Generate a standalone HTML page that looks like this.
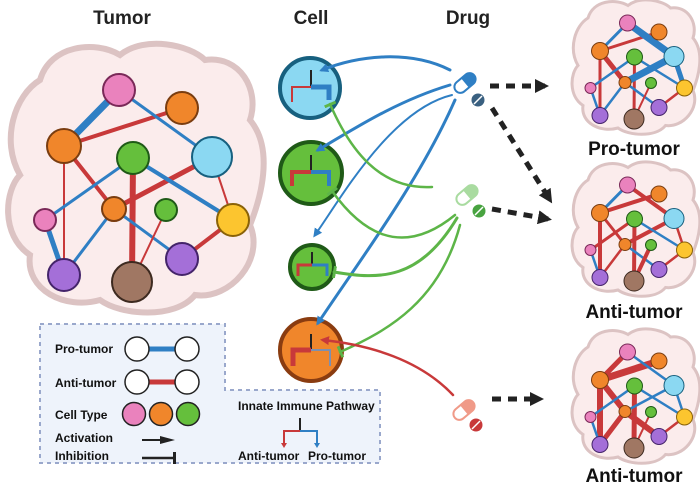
<!DOCTYPE html>
<html><head><meta charset="utf-8"><style>
html,body{margin:0;padding:0;background:#fff;}
svg{display:block;font-family:"Liberation Sans",Arial,sans-serif;font-weight:bold;}
</style></head><body>
<svg width="700" height="483" viewBox="0 0 700 483" xmlns="http://www.w3.org/2000/svg">
<defs>
<marker id="ab" markerWidth="9" markerHeight="9" refX="6" refY="4.5" orient="auto" markerUnits="userSpaceOnUse"><path d="M0,0 L9,4.5 L0,9 Z" fill="#2f7fc4"/></marker>
<marker id="ar" markerWidth="9" markerHeight="9" refX="6" refY="4.5" orient="auto" markerUnits="userSpaceOnUse"><path d="M0,0 L9,4.5 L0,9 Z" fill="#c8393a"/></marker>
<marker id="ak" markerWidth="14" markerHeight="14" refX="10" refY="7" orient="auto" markerUnits="userSpaceOnUse"><path d="M0,0 L14,7 L0,14 Z" fill="#222"/></marker>
<marker id="tg" markerWidth="4" markerHeight="12" refX="2" refY="6" orient="auto" markerUnits="userSpaceOnUse"><rect x="0" y="0" width="3" height="12" fill="#5db548"/></marker>
<g id="cloud">
<path d="M40,80 C50,45 95,40 120,55 C145,35 190,45 205,60 C240,55 260,90 250,120 C275,150 260,200 250,225 C265,260 230,300 195,295 C175,320 120,315 100,300 C65,310 25,290 30,255 C0,235 5,190 20,175 C0,140 15,95 40,80 Z" fill="#fbecec" stroke="#dcc3c3" stroke-width="6"/>
</g>
<g id="nodes">
<circle cx="119" cy="90" r="16" fill="#ea82bd" stroke="#7a2958" stroke-width="2"/>
<circle cx="182" cy="108" r="16" fill="#f0862b" stroke="#7a3d10" stroke-width="2"/>
<circle cx="64" cy="146" r="17" fill="#f0862b" stroke="#7a3d10" stroke-width="2"/>
<circle cx="133" cy="158" r="16" fill="#65bf3c" stroke="#1f5a17" stroke-width="2"/>
<circle cx="212" cy="157" r="20" fill="#8bd8f2" stroke="#17607f" stroke-width="2"/>
<circle cx="114" cy="209" r="12" fill="#f0862b" stroke="#7a3d10" stroke-width="2"/>
<circle cx="166" cy="210" r="11" fill="#65bf3c" stroke="#1f5a17" stroke-width="2"/>
<circle cx="45" cy="220" r="11" fill="#ea82bd" stroke="#7a2958" stroke-width="2"/>
<circle cx="233" cy="220" r="16" fill="#fcc52f" stroke="#8a6208" stroke-width="2"/>
<circle cx="64" cy="275" r="16" fill="#a46fd8" stroke="#44246a" stroke-width="2"/>
<circle cx="132" cy="282" r="20" fill="#a07763" stroke="#3d2a20" stroke-width="2"/>
<circle cx="182" cy="259" r="16" fill="#a46fd8" stroke="#44246a" stroke-width="2"/>
</g>
</defs>

<text x="122" y="24" font-size="19" text-anchor="middle" fill="#222">Tumor</text>
<text x="311" y="24" font-size="19" text-anchor="middle" fill="#222">Cell</text>
<text x="468" y="24" font-size="19" text-anchor="middle" fill="#222">Drug</text>

<use href="#cloud"/>
<g stroke-linecap="round">
<line x1="119" y1="90" x2="64" y2="146" stroke="#2f7fc4" stroke-width="7"/>
<line x1="64" y1="146" x2="182" y2="108" stroke="#c8393a" stroke-width="4"/>
<line x1="119" y1="90" x2="212" y2="157" stroke="#2f7fc4" stroke-width="3"/>
<line x1="64" y1="146" x2="114" y2="209" stroke="#c8393a" stroke-width="4"/>
<line x1="64" y1="146" x2="64" y2="275" stroke="#c8393a" stroke-width="2"/>
<line x1="133" y1="158" x2="45" y2="220" stroke="#2f7fc4" stroke-width="3"/>
<line x1="133" y1="158" x2="132" y2="282" stroke="#c8393a" stroke-width="6"/>
<line x1="114" y1="209" x2="212" y2="157" stroke="#c8393a" stroke-width="5"/>
<line x1="133" y1="158" x2="233" y2="220" stroke="#2f7fc4" stroke-width="4"/>
<line x1="212" y1="157" x2="233" y2="220" stroke="#c8393a" stroke-width="2"/>
<line x1="114" y1="209" x2="64" y2="275" stroke="#2f7fc4" stroke-width="3"/>
<line x1="45" y1="220" x2="64" y2="275" stroke="#2f7fc4" stroke-width="5"/>
<line x1="114" y1="209" x2="182" y2="259" stroke="#2f7fc4" stroke-width="3"/>
<line x1="166" y1="210" x2="132" y2="282" stroke="#c8393a" stroke-width="2"/>
<line x1="182" y1="259" x2="233" y2="220" stroke="#c8393a" stroke-width="4"/>
</g>
<use href="#nodes"/>

<g transform="translate(568,-22) scale(0.5)">
<use href="#cloud"/>
<g stroke-linecap="round">
<line x1="119" y1="90" x2="64" y2="146" stroke="#2f7fc4" stroke-width="6"/>
<line x1="64" y1="146" x2="182" y2="108" stroke="#c8393a" stroke-width="6"/>
<line x1="119" y1="90" x2="212" y2="157" stroke="#2f7fc4" stroke-width="14"/>
<line x1="64" y1="146" x2="114" y2="209" stroke="#c8393a" stroke-width="10"/>
<line x1="64" y1="146" x2="64" y2="275" stroke="#c8393a" stroke-width="6"/>
<line x1="133" y1="158" x2="45" y2="220" stroke="#2f7fc4" stroke-width="5"/>
<line x1="133" y1="158" x2="132" y2="282" stroke="#c8393a" stroke-width="6"/>
<line x1="114" y1="209" x2="212" y2="157" stroke="#2f7fc4" stroke-width="14"/>
<line x1="133" y1="158" x2="233" y2="220" stroke="#2f7fc4" stroke-width="5"/>
<line x1="212" y1="157" x2="233" y2="220" stroke="#2f7fc4" stroke-width="10"/>
<line x1="114" y1="209" x2="64" y2="275" stroke="#2f7fc4" stroke-width="5"/>
<line x1="45" y1="220" x2="64" y2="275" stroke="#2f7fc4" stroke-width="5"/>
<line x1="114" y1="209" x2="182" y2="259" stroke="#2f7fc4" stroke-width="5"/>
<line x1="166" y1="210" x2="132" y2="282" stroke="#c8393a" stroke-width="4"/>
<line x1="182" y1="259" x2="233" y2="220" stroke="#c8393a" stroke-width="5"/>
</g>
<use href="#nodes"/>
</g>
<g transform="translate(568,140) scale(0.5)">
<use href="#cloud"/>
<g stroke-linecap="round">
<line x1="119" y1="90" x2="64" y2="146" stroke="#2f7fc4" stroke-width="6"/>
<line x1="64" y1="146" x2="182" y2="108" stroke="#c8393a" stroke-width="8"/>
<line x1="119" y1="90" x2="212" y2="157" stroke="#c8393a" stroke-width="8"/>
<line x1="64" y1="146" x2="114" y2="209" stroke="#c8393a" stroke-width="6"/>
<line x1="64" y1="146" x2="64" y2="275" stroke="#c8393a" stroke-width="8"/>
<line x1="133" y1="158" x2="45" y2="220" stroke="#c8393a" stroke-width="6"/>
<line x1="133" y1="158" x2="132" y2="282" stroke="#c8393a" stroke-width="8"/>
<line x1="114" y1="209" x2="212" y2="157" stroke="#c8393a" stroke-width="8"/>
<line x1="133" y1="158" x2="233" y2="220" stroke="#2f7fc4" stroke-width="5"/>
<line x1="212" y1="157" x2="233" y2="220" stroke="#c8393a" stroke-width="5"/>
<line x1="114" y1="209" x2="64" y2="275" stroke="#c8393a" stroke-width="5"/>
<line x1="45" y1="220" x2="64" y2="275" stroke="#2f7fc4" stroke-width="5"/>
<line x1="114" y1="209" x2="182" y2="259" stroke="#2f7fc4" stroke-width="5"/>
<line x1="166" y1="210" x2="132" y2="282" stroke="#c8393a" stroke-width="8"/>
<line x1="182" y1="259" x2="233" y2="220" stroke="#c8393a" stroke-width="5"/>
</g>
<use href="#nodes"/>
</g>
<g transform="translate(568,307) scale(0.5)">
<use href="#cloud"/>
<g stroke-linecap="round">
<line x1="119" y1="90" x2="64" y2="146" stroke="#c8393a" stroke-width="10"/>
<line x1="64" y1="146" x2="182" y2="108" stroke="#c8393a" stroke-width="14"/>
<line x1="119" y1="90" x2="212" y2="157" stroke="#2f7fc4" stroke-width="5"/>
<line x1="64" y1="146" x2="114" y2="209" stroke="#c8393a" stroke-width="12"/>
<line x1="64" y1="146" x2="64" y2="275" stroke="#c8393a" stroke-width="12"/>
<line x1="133" y1="158" x2="45" y2="220" stroke="#2f7fc4" stroke-width="5"/>
<line x1="133" y1="158" x2="132" y2="282" stroke="#c8393a" stroke-width="10"/>
<line x1="114" y1="209" x2="212" y2="157" stroke="#2f7fc4" stroke-width="5"/>
<line x1="133" y1="158" x2="233" y2="220" stroke="#2f7fc4" stroke-width="5"/>
<line x1="212" y1="157" x2="233" y2="220" stroke="#2f7fc4" stroke-width="5"/>
<line x1="114" y1="209" x2="64" y2="275" stroke="#c8393a" stroke-width="10"/>
<line x1="45" y1="220" x2="64" y2="275" stroke="#2f7fc4" stroke-width="5"/>
<line x1="114" y1="209" x2="182" y2="259" stroke="#c8393a" stroke-width="12"/>
<line x1="166" y1="210" x2="132" y2="282" stroke="#c8393a" stroke-width="4"/>
<line x1="182" y1="259" x2="233" y2="220" stroke="#c8393a" stroke-width="5"/>
</g>
<use href="#nodes"/>
</g>
<text x="634" y="155" font-size="19" text-anchor="middle" fill="#111">Pro-tumor</text>
<text x="634" y="318" font-size="19" text-anchor="middle" fill="#111">Anti-tumor</text>
<text x="634" y="482" font-size="19" text-anchor="middle" fill="#111">Anti-tumor</text>

<path d="M40,324 H225 V390 H380 V463 H40 Z" fill="#eef3fb" stroke="#9aa8cc" stroke-width="2" stroke-dasharray="4,4"/>
<g font-size="12" fill="#111">
<text x="55" y="353">Pro-tumor</text>
<text x="55" y="387">Anti-tumor</text>
<text x="55" y="419">Cell Type</text>
<text x="55" y="442">Activation</text>
<text x="55" y="460">Inhibition</text>
<text x="238" y="410">Innate Immune Pathway</text>
<text x="238" y="460">Anti-tumor</text>
<text x="308" y="460">Pro-tumor</text>
</g>
<line x1="140" y1="349" x2="184" y2="349" stroke="#2f7fc4" stroke-width="5"/>
<circle cx="137" cy="349" r="12" fill="#fff" stroke="#222" stroke-width="1.5"/>
<circle cx="187" cy="349" r="12" fill="#fff" stroke="#222" stroke-width="1.5"/>
<line x1="140" y1="382" x2="184" y2="382" stroke="#c8393a" stroke-width="5"/>
<circle cx="137" cy="382" r="12" fill="#fff" stroke="#222" stroke-width="1.5"/>
<circle cx="187" cy="382" r="12" fill="#fff" stroke="#222" stroke-width="1.5"/>
<circle cx="134" cy="414" r="11.5" fill="#ea82bd" stroke="#222" stroke-width="1.5"/>
<circle cx="161" cy="414" r="11.5" fill="#f0862b" stroke="#222" stroke-width="1.5"/>
<circle cx="188" cy="414" r="11.5" fill="#65bf3c" stroke="#222" stroke-width="1.5"/>
<line x1="142" y1="440" x2="166" y2="440" stroke="#222" stroke-width="2"/>
<path d="M160,436 L175,440 L160,444 Z" fill="#222"/>
<line x1="142" y1="458" x2="173" y2="458" stroke="#222" stroke-width="2.5"/>
<rect x="173" y="452" width="3" height="12" fill="#222"/>
<g fill="none" stroke-width="2">
<line x1="300" y1="418" x2="300" y2="431" stroke="#222"/>
<path d="M300,431 H284 V444" stroke="#c8393a"/>
<path d="M300,431 H317 V444" stroke="#2f7fc4"/>
</g>
<path d="M281,443 L287,443 L284,448Z" fill="#c8393a"/><path d="M314,443 L320,443 L317,448Z" fill="#2f7fc4"/>

<circle cx="310" cy="88" r="30" fill="#8bd8f2" stroke="#17607f" stroke-width="4"/>
<circle cx="311" cy="173" r="31" fill="#65bf3c" stroke="#1f5a17" stroke-width="4"/>
<circle cx="312" cy="267" r="22" fill="#65bf3c" stroke="#1f5a17" stroke-width="4"/>
<circle cx="311" cy="350" r="31" fill="#f0862b" stroke="#8a3c10" stroke-width="4"/>
<g fill="none">
<path d="M311,70 V87 M311,155 V172 M312,252 V265 M311,334 V350" stroke="#222" stroke-width="2"/>
<path d="M311,87 H292 V102" stroke="#c8393a" stroke-width="2"/>
<path d="M311,87 H329 V100" stroke="#2f7fc4" stroke-width="5"/>
<path d="M311,172 H292 V186" stroke="#c8393a" stroke-width="4"/>
<path d="M311,172 H329 V186" stroke="#2f7fc4" stroke-width="4"/>
<path d="M312,265 H298 V276" stroke="#c8393a" stroke-width="3"/>
<path d="M312,265 H327 V276" stroke="#2f7fc4" stroke-width="3"/>
<path d="M311,350 H293 V366" stroke="#c8393a" stroke-width="5"/>
<path d="M311,350 H330 V366" stroke="#7d8fb0" stroke-width="2"/>
</g>

<g fill="none" stroke-linecap="round">
<path d="M450,70 C410,50 360,55 322,70" stroke="#2f7fc4" stroke-width="3" marker-end="url(#ab)"/>
<path d="M450,85 C400,100 360,125 318,150" stroke="#2f7fc4" stroke-width="3" marker-end="url(#ab)"/>
<path d="M452,95 C390,110 340,200 315,235" stroke="#2f7fc4" stroke-width="2" marker-end="url(#ab)"/>
<path d="M455,100 C420,180 360,260 318,323" stroke="#2f7fc4" stroke-width="3" marker-end="url(#ab)"/>
<path d="M432,187 C380,190 350,150 330,104" stroke="#5db548" stroke-width="2.5" marker-end="url(#tg)"/>
<path d="M455,215 C400,260 360,230 332,191" stroke="#5db548" stroke-width="2.5" marker-end="url(#tg)"/>
<path d="M457,218 C420,280 380,280 334,272" stroke="#5db548" stroke-width="3" marker-end="url(#tg)"/>
<path d="M460,225 C440,300 390,330 340,352" stroke="#5db548" stroke-width="2.5" marker-end="url(#tg)"/>
<path d="M453,395 C420,360 370,345 323,340" stroke="#c8393a" stroke-width="2.5" marker-end="url(#ar)"/>
</g>

<g transform="translate(465,83) rotate(-40)"><rect x="-12" y="-6" width="24" height="12" rx="6" fill="#fff" stroke="#2f7fc4" stroke-width="2"/><path d="M0,-6 H6 A6,6 0 0 1 6,6 H0 Z" fill="#2f7fc4"/></g>
<circle cx="478" cy="100" r="6.5" fill="#3a6080"/><line x1="474" y1="104" x2="482" y2="96" stroke="#fff" stroke-width="1.5"/>
<g transform="translate(467,195) rotate(-40)"><rect x="-12" y="-6" width="24" height="12" rx="6" fill="#fff" stroke="#a9dba0" stroke-width="2"/><path d="M0,-6 H6 A6,6 0 0 1 6,6 H0 Z" fill="#a9dba0"/></g>
<circle cx="479" cy="211" r="6.5" fill="#48a340"/><line x1="475" y1="215" x2="483" y2="207" stroke="#fff" stroke-width="1.5"/>
<g transform="translate(464,410) rotate(-40)"><rect x="-12" y="-6" width="24" height="12" rx="6" fill="#fff" stroke="#f09a88" stroke-width="2"/><path d="M0,-6 H6 A6,6 0 0 1 6,6 H0 Z" fill="#f09a88"/></g>
<circle cx="476" cy="425" r="6.5" fill="#c8393a"/><line x1="472" y1="429" x2="480" y2="421" stroke="#fff" stroke-width="1.5"/>

<g stroke="#222" stroke-width="5" stroke-dasharray="9,7" fill="none">
<line x1="490" y1="86" x2="545" y2="86" marker-end="url(#ak)"/>
<line x1="492" y1="108" x2="550" y2="200" marker-end="url(#ak)"/>
<line x1="492" y1="209" x2="548" y2="219" marker-end="url(#ak)"/>
<line x1="492" y1="399" x2="540" y2="399" marker-end="url(#ak)"/>
</g>
</svg>
</body></html>
